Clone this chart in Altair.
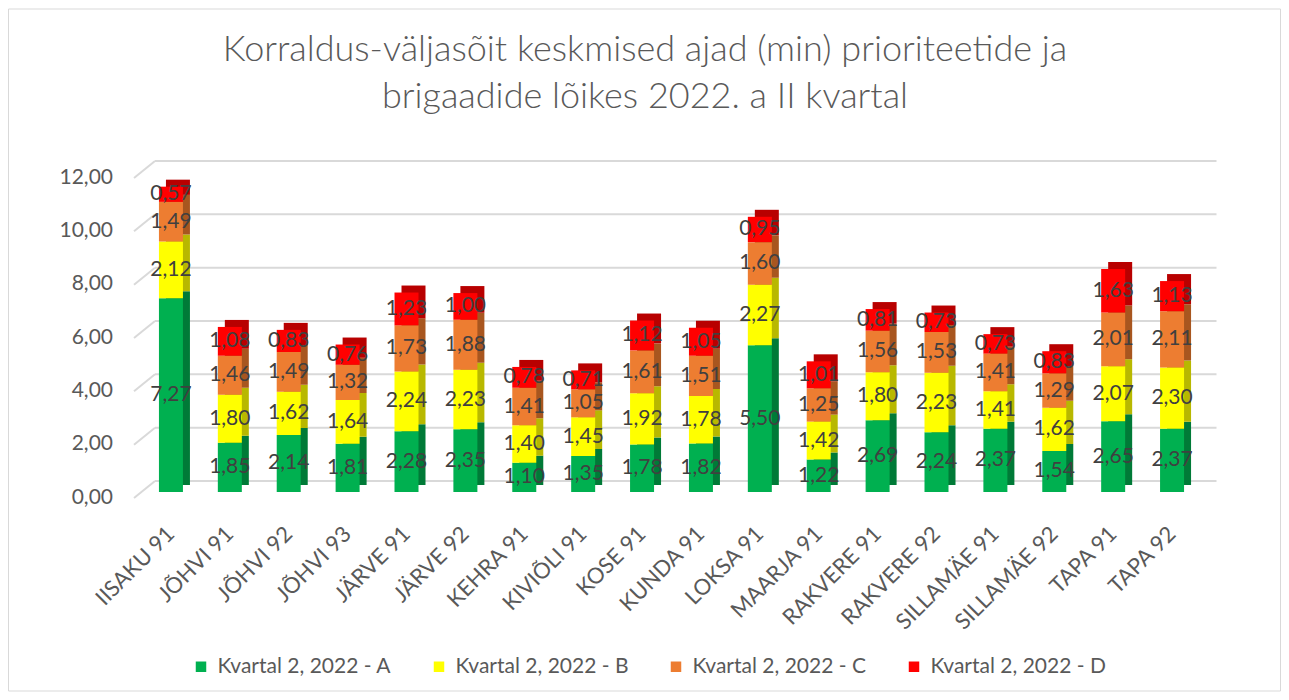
import altair as alt
import pandas as pd

categories = ["IISAKU 91", "JÕHVI 91", "JÕHVI 92", "JÕHVI 93", "JÄRVE 91", "JÄRVE 92",
              "KEHRA 91", "KIVIÕLI 91", "KOSE 91", "KUNDA 91", "LOKSA 91", "MAARJA 91",
              "RAKVERE 91", "RAKVERE 92", "SILLAMÄE 91", "SILLAMÄE 92", "TAPA 91", "TAPA 92"]
series_names = ["Kvartal 2, 2022 - A", "Kvartal 2, 2022 - B",
                "Kvartal 2, 2022 - C", "Kvartal 2, 2022 - D"]
A = [7.27, 1.85, 2.14, 1.81, 2.28, 2.35, 1.10, 1.35, 1.78, 1.82, 5.50, 1.22, 2.69, 2.24, 2.37, 1.54, 2.65, 2.37]
B = [2.12, 1.80, 1.62, 1.64, 2.24, 2.23, 1.40, 1.45, 1.92, 1.78, 2.27, 1.42, 1.80, 2.23, 1.41, 1.62, 2.07, 2.30]
C = [1.49, 1.46, 1.49, 1.32, 1.73, 1.88, 1.41, 1.05, 1.61, 1.51, 1.60, 1.25, 1.56, 1.53, 1.41, 1.29, 2.01, 2.11]
D = [0.57, 1.08, 0.83, 0.76, 1.23, 1.00, 0.78, 0.71, 1.12, 1.05, 0.95, 1.01, 0.81, 0.73, 0.73, 0.83, 1.63, 1.13]
grid_values = [0, 2, 4, 6, 8, 10, 12]
title_lines = ["Korraldus-väljasõit keskmised ajad (min) prioriteetide ja",
               "brigaadide lõikes 2022. a II kvartal"]

colors = ["#00B050", "#FFFF00", "#ED7D31", "#FF0000"]
dark_colors = ["#007A37", "#B8B800", "#A8561F", "#B80000"]

rows = []
for si, (name, vals) in enumerate(zip(series_names, [A, B, C, D])):
    for cat, v in zip(categories, vals):
        rows.append({"cat": cat, "series": name, "value": v, "order": si,
                     "dark": dark_colors[si]})
df = pd.DataFrame(rows)
grid_df = pd.DataFrame({"g": grid_values})

W, H = 1060, 320
FONT = "Lato"
GRAY = "#595959"

x_enc = alt.X("cat:N", sort=categories, title=None,
              scale=alt.Scale(paddingInner=0.6, paddingOuter=0.3),
              axis=alt.Axis(labelAngle=-45, labelAlign="right", labelBaseline="middle",
                            labelFontSize=22, labelColor=GRAY, labelFont=FONT,
                            domain=False, ticks=False, labelPadding=38, grid=False))
y_scale = alt.Scale(domain=[0, 12], nice=False)
y_axis = alt.Axis(values=grid_values, grid=False, domain=False, ticks=False,
                  labelFontSize=21, labelColor=GRAY, labelFont=FONT,
                  labelPadding=29, labelOffset=5,
                  labelExpr="replace(format(datum.value, '.2f'), '.', ',')")

border = alt.Chart(pd.DataFrame({"a": [0]})).mark_rect(
    fillOpacity=0, stroke="#D9D9D9", strokeWidth=1).encode(
    x=alt.value(-133), x2=alt.value(W + 79), y=alt.value(-163), y2=alt.value(H + 199))

title1 = alt.Chart(pd.DataFrame({"t": [title_lines[0]]})).mark_text(
    fontSize=36, font=FONT, fontWeight=300, color=GRAY, align="center", baseline="middle").encode(
    x=alt.value(503.5), y=alt.value(-122), text="t:N")
title2 = alt.Chart(pd.DataFrame({"t": [title_lines[1]]})).mark_text(
    fontSize=36, font=FONT, fontWeight=300, color=GRAY, align="center", baseline="middle").encode(
    x=alt.value(503.5), y=alt.value(-75), text="t:N")

grid = alt.Chart(grid_df).mark_rule(color="#D9D9D9", strokeWidth=2, yOffset=-11).encode(
    x=alt.value(13.5), x2=alt.value(W + 15),
    y=alt.Y("g:Q", scale=y_scale, axis=y_axis, title=None))

diag = alt.Chart(grid_df).mark_rule(color="#D9D9D9", strokeWidth=2, yOffset=6, y2Offset=-11).encode(
    x=alt.value(-7.5), x2=alt.value(13.5),
    y=alt.Y("g:Q", scale=y_scale, axis=y_axis, title=None), y2="g:Q")

back = alt.Chart(df).mark_bar(size=24, xOffset=7, yOffset=-7).encode(
    x=x_enc,
    y=alt.Y("value:Q", stack="zero", scale=y_scale, axis=y_axis, title=None),
    order=alt.Order("order:Q"),
    color=alt.Color("dark:N", scale=None))

front = alt.Chart(df).mark_bar(size=24).encode(
    x=x_enc,
    y=alt.Y("value:Q", stack="zero", scale=y_scale, axis=y_axis, title=None),
    order=alt.Order("order:Q"),
    color=alt.Color("series:N", sort=series_names,
                    scale=alt.Scale(domain=series_names, range=colors),
                    legend=alt.Legend(title=None, orient="none", direction="horizontal",
                                      columns=4, legendX=49, legendY=484,
                                      symbolType="square", symbolSize=110,
                                      symbolStrokeWidth=0, labelLimit=400,
                                      labelFontSize=21, labelColor=GRAY, labelFont=FONT,
                                      labelOffset=6, columnPadding=37)))

labels = alt.Chart(df).transform_stack(
    stack="value", groupby=["cat"], as_=["y0", "y1"], sort=[alt.SortField("order")]
).transform_calculate(
    mid="(datum.y0 + datum.y1) / 2",
    txt="replace(format(datum.value, '.2f'), '.', ',')"
).mark_text(fontSize=21, font=FONT, color="#404040", baseline="middle", align="center").encode(
    x=x_enc,
    y=alt.Y("mid:Q", scale=y_scale, axis=y_axis, title=None),
    text="txt:N")

chart = alt.layer(border, title1, title2, grid, diag, back, front, labels).properties(
    width=W, height=H,
    padding={"left": 133.5, "top": 164, "right": 79.5, "bottom": 200},
    autosize=alt.AutoSizeParams(type="none"),
    view=alt.ViewBackground(stroke="transparent", strokeWidth=0, fill="white"),
).configure_view(strokeOpacity=0, strokeWidth=0).configure(background="white")

chart.save("out.html", embed_options={"renderer": "svg", "actions": False})
